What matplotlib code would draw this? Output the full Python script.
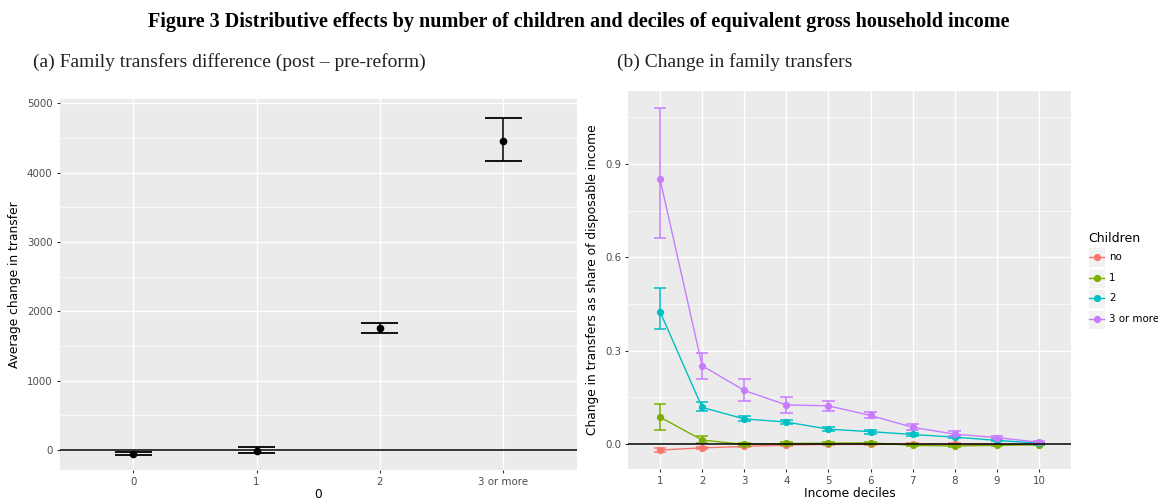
import matplotlib
matplotlib.use("Agg")
import matplotlib.pyplot as plt
from matplotlib.lines import Line2D
from matplotlib.patches import Rectangle
import numpy as np

# ---- Panel (a) data ----
kids_cats = ["0", "1", "2", "3 or more"]
kids_mean = [-55, -10, 1760, 4460]
kids_lo = [-75, -45, 1688, 4165]
kids_hi = [-35, 38, 1827, 4790]

# ---- Panel (b) data ----
deciles = [1, 2, 3, 4, 5, 6, 7, 8, 9, 10]
series_names = ["no", "1", "2", "3 or more"]
colors = ["#F8766D", "#7CAE00", "#00BFC4", "#C77CFF"]

no_mean = [-0.019, -0.012, -0.0075, -0.003, -0.001, -0.001, 0.000, 0.000, -0.001, -0.001]
no_lo = [-0.024, -0.015, -0.0105, -0.005, -0.003, -0.003, -0.002, -0.002, -0.003, -0.003]
no_hi = [-0.014, -0.009, -0.0045, -0.001, 0.001, 0.001, 0.002, 0.002, 0.001, 0.001]

one_mean = [0.087, 0.013, -0.001, 0.002, 0.003, 0.004, -0.004, -0.006, -0.004, -0.002]
one_lo = [0.045, 0.003, -0.005, -0.002, -0.001, 0.000, -0.007, -0.009, -0.006, -0.004]
one_hi = [0.129, 0.026, 0.003, 0.006, 0.007, 0.008, -0.001, -0.003, -0.002, 0.000]

two_mean = [0.426, 0.118, 0.081, 0.071, 0.048, 0.040, 0.031, 0.0225, 0.012, 0.003]
two_lo = [0.371, 0.105, 0.075, 0.064, 0.043, 0.034, 0.026, 0.0185, 0.009, 0.001]
two_hi = [0.501, 0.134, 0.089, 0.077, 0.054, 0.045, 0.036, 0.0265, 0.015, 0.005]

three_mean = [0.852, 0.252, 0.1725, 0.126, 0.123, 0.092, 0.054, 0.032, 0.021, 0.006]
three_lo = [0.663, 0.208, 0.137, 0.0996, 0.108, 0.0825, 0.044, 0.025, 0.015, 0.002]
three_hi = [1.079, 0.294, 0.209, 0.150, 0.137, 0.103, 0.066, 0.041, 0.027, 0.011]

means = [no_mean, one_mean, two_mean, three_mean]
los = [no_lo, one_lo, two_lo, three_lo]
his = [no_hi, one_hi, two_hi, three_hi]

BG = "#EBEBEB"
TICKC = "#4D4D4D"

fig = plt.figure(figsize=(11.58, 5.0), dpi=100)
fig.patch.set_facecolor("white")

def style_ax(ax):
    ax.set_facecolor(BG)
    for s in ax.spines.values():
        s.set_visible(False)
    ax.tick_params(axis="both", colors="#333333", labelcolor=TICKC, labelsize=7.4,
                   length=2.5, width=0.8, pad=2.5)
    ax.tick_params(axis="both", which="minor", length=0)
    ax.grid(True, which="major", color="white", lw=1.0)
    ax.grid(True, which="minor", color="white", lw=0.5)
    ax.set_axisbelow(True)

# ---- Panel (a) ----
axA = fig.add_axes([0.0514, 0.06, 0.4469, 0.742])
style_ax(axA)
xa = np.arange(len(kids_cats))
axA.set_xlim(-0.6, 3.6)
axA.set_ylim(-290, 5060)
axA.set_yticks([0, 1000, 2000, 3000, 4000, 5000])
axA.set_yticks([500, 1500, 2500, 3500, 4500], minor=True)
axA.set_xticks(xa)
axA.set_xticklabels(kids_cats)
axA.grid(False, which="minor", axis="x")
axA.axhline(0, color="black", lw=1.1, zorder=2)
axA.vlines(xa, kids_lo, kids_hi, color="black", lw=1.1, zorder=3)
axA.hlines(kids_lo, xa - 0.15, xa + 0.15, color="black", lw=1.3, zorder=3)
axA.hlines(kids_hi, xa - 0.15, xa + 0.15, color="black", lw=1.3, zorder=3)
axA.plot(xa, kids_mean, "o", color="black", ms=4.5, zorder=4)
axA.set_xlabel("0", fontsize=8.8, color="black", labelpad=0.5)
axA.set_ylabel("Average change in transfer", fontsize=8.8, color="black", labelpad=4)

# ---- Panel (b) ----
axB = fig.add_axes([0.5423, 0.062, 0.3826, 0.756])
style_ax(axB)
axB.set_xlim(0.24, 10.76)
axB.set_ylim(-0.080, 1.135)
axB.set_xticks(deciles)
axB.set_yticks([0.0, 0.3, 0.6, 0.9])
axB.set_yticklabels(["0.0", "0.3", "0.6", "0.9"])
axB.set_yticks([0.15, 0.45, 0.75, 1.05], minor=True)
axB.grid(False, which="minor", axis="x")
axB.axhline(0, color="black", lw=1.1, zorder=5)
d = np.array(deciles, dtype=float)
for name, col, m, lo, hi in zip(series_names, colors, means, los, his):
    axB.plot(d, m, "-", color=col, lw=1.0, zorder=3)
    axB.vlines(d, lo, hi, color=col, lw=1.1, zorder=3)
    axB.hlines(lo, d - 0.15, d + 0.15, color=col, lw=1.1, zorder=3)
    axB.hlines(hi, d - 0.15, d + 0.15, color=col, lw=1.1, zorder=3)
    axB.plot(d, m, "o", color=col, ms=4.2, zorder=4)
axB.set_xlabel("Income deciles", fontsize=8.8, color="black", labelpad=0.5)
axB.set_ylabel("Change in transfers as share of disposable income", fontsize=8.8,
               color="black", labelpad=4)

# ---- Legend (manual, ggplot style) ----
fig.text(1088 / 1158, 1 - 238 / 500, "Children", fontsize=9, ha="left", va="center")
key_y = [257, 278, 298, 319]
for name, col, ky in zip(series_names, colors, key_y):
    yf = 1 - ky / 500
    fig.patches.append(Rectangle((1088 / 1158, yf - 9.5 / 500), 17 / 1158, 19 / 500,
                                 transform=fig.transFigure, facecolor="#F2F2F2",
                                 edgecolor="white", lw=0.8))
    fig.lines.append(Line2D([1089 / 1158, 1104 / 1158], [yf, yf], color=col, lw=1.0,
                            transform=fig.transFigure))
    fig.lines.append(Line2D([1096.5 / 1158], [yf], marker="o", ms=4.2, color=col,
                            transform=fig.transFigure))
    fig.text(1109 / 1158, yf, name, fontsize=7.4, ha="left", va="center", color="black")

# ---- Titles ----
fig.text(0.5, 1 - 22 / 500,
         "Figure 3 Distributive effects by number of children and deciles of equivalent gross household income",
         ha="center", va="center", fontsize=14.5, fontweight="bold", family="Liberation Serif")
fig.text(33 / 1158, 1 - 62 / 500, "(a) Family transfers difference (post \u2013 pre-reform)",
         ha="left", va="center", fontsize=14, family="Liberation Serif", color="#222222")
fig.text(617 / 1158, 1 - 62 / 500, "(b) Change in family transfers",
         ha="left", va="center", fontsize=14, family="Liberation Serif", color="#222222")

fig.savefig("out.png", dpi=100)
